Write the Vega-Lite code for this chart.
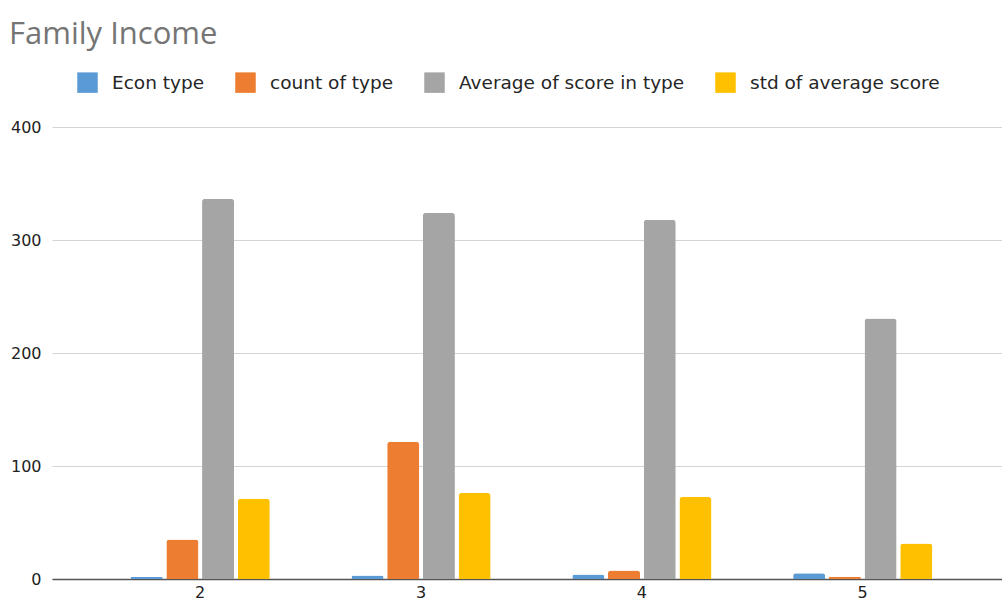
{
  "$schema": "https://vega.github.io/schema/vega-lite/v6.json",
  "width": 950,
  "height": 452,
  "autosize": "none",
  "padding": {"left": 52, "top": 127, "right": 0, "bottom": 27},
  "background": "white",
  "title": {
    "text": "Family Income",
    "anchor": "start",
    "font": "Open Sans",
    "fontSize": 31,
    "fontWeight": "normal",
    "color": "#757575",
    "orient": "top",
    "frame": "group",
    "dx": -43,
    "offset": 21
  },
  "config": {
    "view": {"stroke": null},
    "font": "DejaVu Sans"
  },
  "data": {
    "values": [
      {"group": "2", "series": "Econ type", "value": 2},
      {"group": "2", "series": "count of type", "value": 35},
      {"group": "2", "series": "Average of score in type", "value": 336.4},
      {"group": "2", "series": "std of average score", "value": 71},
      {"group": "3", "series": "Econ type", "value": 3},
      {"group": "3", "series": "count of type", "value": 121.5},
      {"group": "3", "series": "Average of score in type", "value": 324},
      {"group": "3", "series": "std of average score", "value": 76},
      {"group": "4", "series": "Econ type", "value": 4},
      {"group": "4", "series": "count of type", "value": 7.6},
      {"group": "4", "series": "Average of score in type", "value": 318},
      {"group": "4", "series": "std of average score", "value": 72.5},
      {"group": "5", "series": "Econ type", "value": 5},
      {"group": "5", "series": "count of type", "value": 2},
      {"group": "5", "series": "Average of score in type", "value": 230.5},
      {"group": "5", "series": "std of average score", "value": 31.4}
    ]
  },
  "mark": {
    "type": "bar",
    "cornerRadiusTopLeft": 3,
    "cornerRadiusTopRight": 3
  },
  "encoding": {
    "x": {
      "field": "group",
      "type": "nominal",
      "sort": ["2", "3", "4", "5"],
      "scale": {"paddingInner": 0.37, "paddingOuter": 0.336, "align": 0.53},
      "axis": {
        "title": null,
        "labelAngle": 0,
        "labelFont": "DejaVu Sans",
        "labelFontSize": 16,
        "labelColor": "#222222",
        "labelPadding": 5,
        "ticks": false,
        "domainColor": "#555555",
        "domainWidth": 1.5,
        "grid": false
      }
    },
    "xOffset": {
      "field": "series",
      "type": "nominal",
      "sort": ["Econ type", "count of type", "Average of score in type", "std of average score"],
      "scale": {"paddingInner": 0.103, "paddingOuter": 0}
    },
    "y": {
      "field": "value",
      "type": "quantitative",
      "scale": {"domain": [0, 400], "nice": false},
      "axis": {
        "title": null,
        "values": [0, 100, 200, 300, 400],
        "labelFont": "DejaVu Sans",
        "labelFontSize": 16,
        "labelColor": "#222222",
        "labelPadding": 11,
        "ticks": false,
        "domain": false,
        "gridColor": "#d4d4d4",
        "gridWidth": 1.2
      }
    },
    "color": {
      "field": "series",
      "type": "nominal",
      "sort": ["Econ type", "count of type", "Average of score in type", "std of average score"],
      "scale": {
        "domain": ["Econ type", "count of type", "Average of score in type", "std of average score"],
        "range": ["#5b9bd5", "#ed7d31", "#a5a5a5", "#ffc000"]
      },
      "legend": {
        "title": null,
        "orient": "none",
        "direction": "horizontal",
        "legendX": 25,
        "legendY": -55,
        "symbolType": "square",
        "symbolSize": 420,
        "symbolStrokeWidth": 0,
        "symbolOpacity": 1,
        "labelFont": "DejaVu Sans",
        "labelFontSize": 18.5,
        "labelColor": "#262626",
        "labelOffset": 14,
        "columnPadding": 30,
        "labelLimit": 400
      }
    }
  }
}
